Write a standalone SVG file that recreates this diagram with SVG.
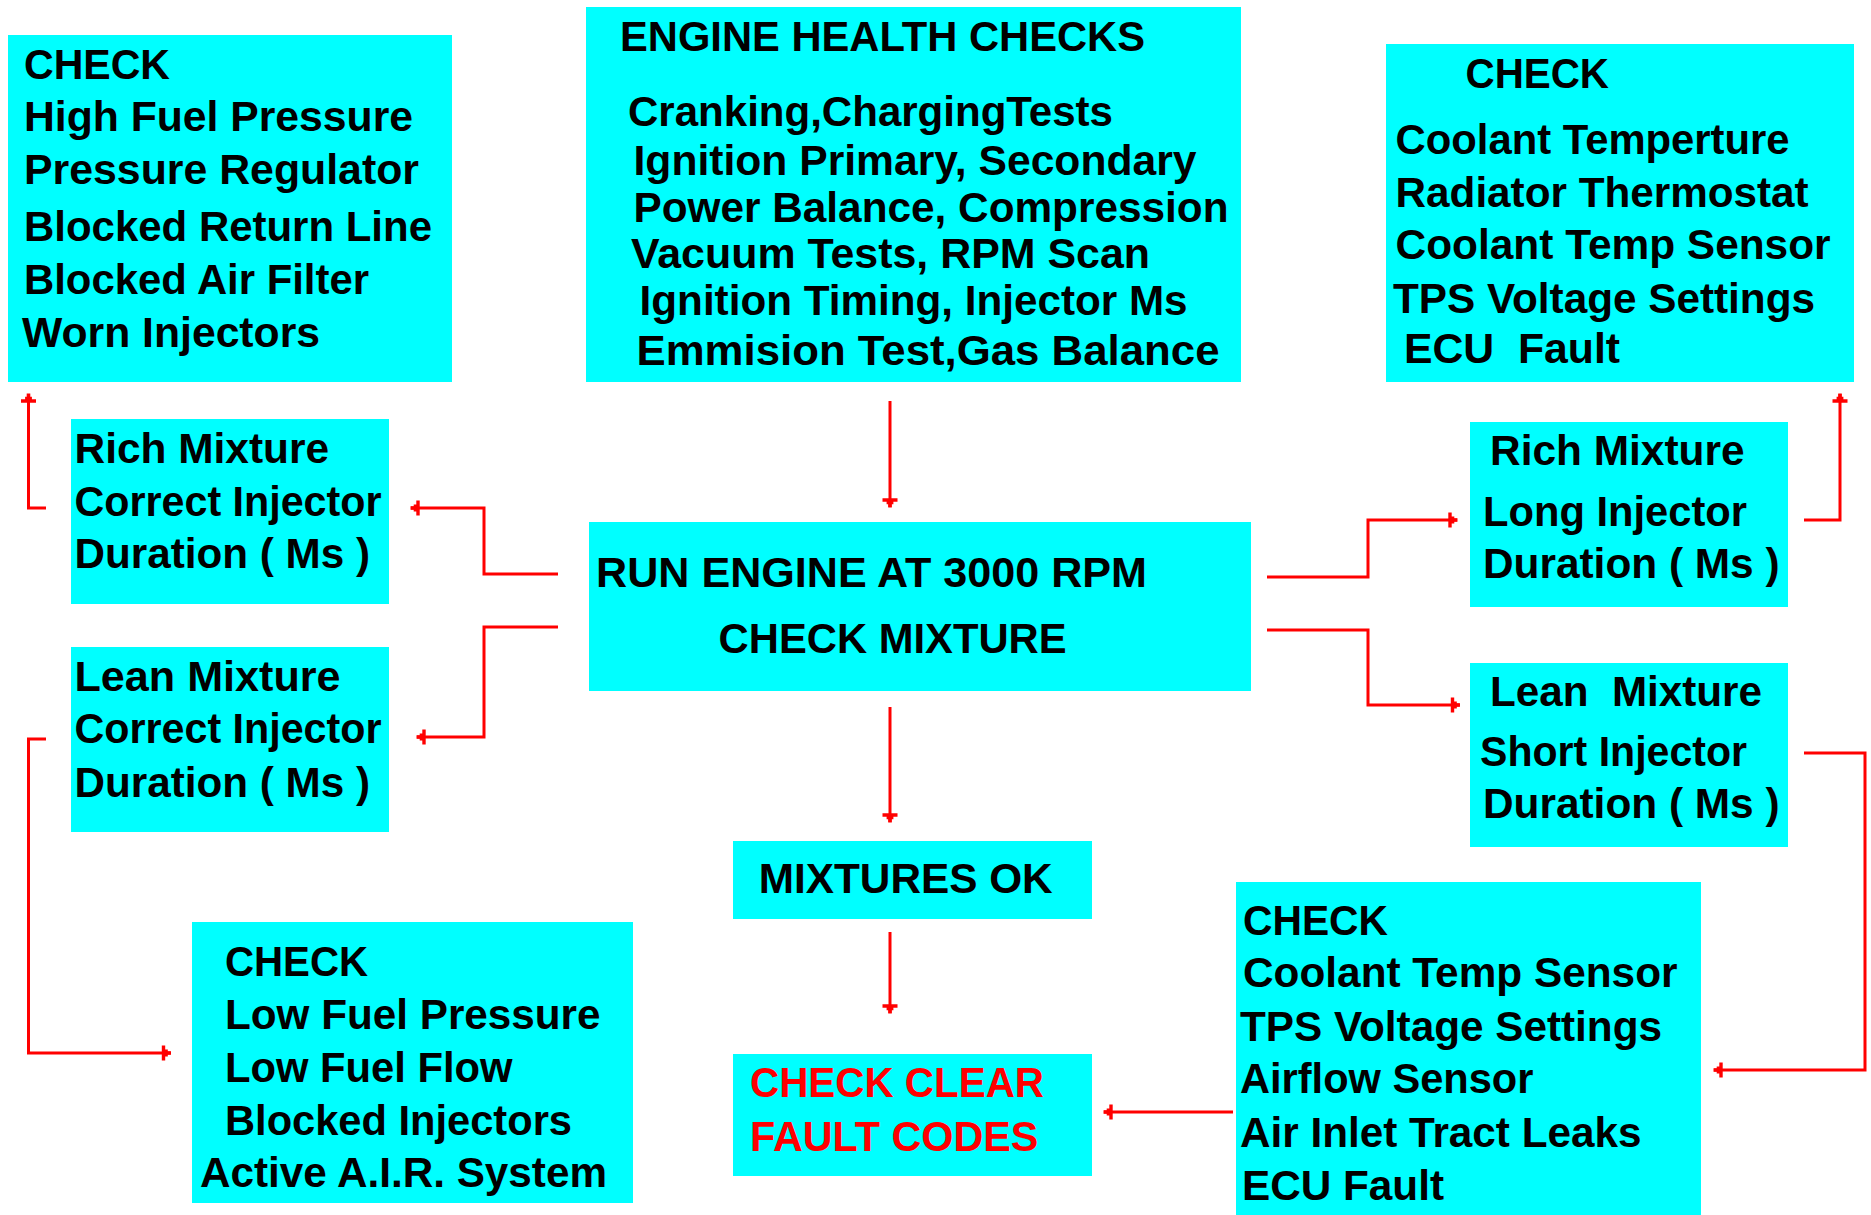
<svg xmlns="http://www.w3.org/2000/svg" width="1871" height="1215" viewBox="0 0 1871 1215">
<style>
.box{fill:#00FFFF}
text{font-family:"Liberation Sans",Arial,sans-serif;font-weight:bold;font-size:42px;fill:#000;white-space:pre}
.red{fill:#FF0000}
.conn path{fill:none;stroke:#FF0000;stroke-width:3;marker-end:url(#ah)}
</style>
<defs>
<marker id="ah" viewBox="-10 -8 12 16" refX="0" refY="0" markerWidth="12" markerHeight="16" markerUnits="userSpaceOnUse" orient="auto">
<path d="M0.5,-1.8 H-2.7 V-3.4 H-5.3 V-7.5 H-8.7 V7.5 H-5.3 V3.4 H-2.7 V1.8 H0.5 Z" fill="#FF0000"/>
</marker>
</defs>
<rect width="1871" height="1215" fill="#FFFFFF"/>

<g id="n1">
<rect class="box" x="8" y="35" width="444" height="347"/>
<text x="24" y="79" textLength="146" lengthAdjust="spacingAndGlyphs">CHECK</text>
<text x="24" y="131" textLength="389" lengthAdjust="spacingAndGlyphs">High Fuel Pressure</text>
<text x="24" y="184" textLength="395" lengthAdjust="spacingAndGlyphs">Pressure Regulator</text>
<text x="24" y="241" textLength="408" lengthAdjust="spacingAndGlyphs">Blocked Return Line</text>
<text x="24" y="294" textLength="345" lengthAdjust="spacingAndGlyphs">Blocked Air Filter</text>
<text x="22" y="347" textLength="298" lengthAdjust="spacingAndGlyphs">Worn Injectors</text>
</g>

<g id="n2">
<rect class="box" x="586" y="7" width="655" height="375"/>
<text x="620" y="51" textLength="525" lengthAdjust="spacingAndGlyphs">ENGINE HEALTH CHECKS</text>
<text x="628" y="126" textLength="485" lengthAdjust="spacingAndGlyphs">Cranking,ChargingTests</text>
<text x="633.5" y="175" textLength="563" lengthAdjust="spacingAndGlyphs">Ignition Primary, Secondary</text>
<text x="633.5" y="222" textLength="595" lengthAdjust="spacingAndGlyphs">Power Balance, Compression</text>
<text x="631" y="268" textLength="519" lengthAdjust="spacingAndGlyphs">Vacuum Tests, RPM Scan</text>
<text x="639.6" y="315" textLength="548" lengthAdjust="spacingAndGlyphs">Ignition Timing, Injector Ms</text>
<text x="636.5" y="365" textLength="583" lengthAdjust="spacingAndGlyphs">Emmision Test,Gas Balance</text>
</g>

<g id="n3">
<rect class="box" x="1386" y="44" width="468" height="338"/>
<text x="1465.5" y="88" textLength="143.5" lengthAdjust="spacingAndGlyphs">CHECK</text>
<text x="1395.6" y="154" textLength="394" lengthAdjust="spacingAndGlyphs">Coolant Temperture</text>
<text x="1395.6" y="207" textLength="413" lengthAdjust="spacingAndGlyphs">Radiator Thermostat</text>
<text x="1395.6" y="259" textLength="435" lengthAdjust="spacingAndGlyphs">Coolant Temp Sensor</text>
<text x="1393" y="313" textLength="422" lengthAdjust="spacingAndGlyphs">TPS Voltage Settings</text>
<text x="1404" y="363" textLength="216" lengthAdjust="spacingAndGlyphs">ECU  Fault</text>
</g>

<g id="n4">
<rect class="box" x="71" y="419" width="318" height="185"/>
<text x="74.5" y="463" textLength="254.5" lengthAdjust="spacingAndGlyphs">Rich Mixture</text>
<text x="74.5" y="516" textLength="307" lengthAdjust="spacingAndGlyphs">Correct Injector</text>
<text x="74.5" y="568" textLength="295.5" lengthAdjust="spacingAndGlyphs">Duration ( Ms )</text>
</g>

<g id="n5">
<rect class="box" x="71" y="647" width="318" height="185"/>
<text x="74.5" y="691" textLength="266" lengthAdjust="spacingAndGlyphs">Lean Mixture</text>
<text x="74.5" y="743" textLength="307" lengthAdjust="spacingAndGlyphs">Correct Injector</text>
<text x="74.5" y="797" textLength="295.5" lengthAdjust="spacingAndGlyphs">Duration ( Ms )</text>
</g>

<g id="n6">
<rect class="box" x="589" y="522" width="662" height="169"/>
<text x="596" y="587" textLength="551" lengthAdjust="spacingAndGlyphs">RUN ENGINE AT 3000 RPM</text>
<text x="718.6" y="653" textLength="348" lengthAdjust="spacingAndGlyphs">CHECK MIXTURE</text>
</g>

<g id="n7">
<rect class="box" x="1470" y="422" width="318" height="185"/>
<text x="1490" y="465" textLength="254.5" lengthAdjust="spacingAndGlyphs">Rich Mixture</text>
<text x="1483" y="526" textLength="264" lengthAdjust="spacingAndGlyphs">Long Injector</text>
<text x="1483" y="578" textLength="296.5" lengthAdjust="spacingAndGlyphs">Duration ( Ms )</text>
</g>

<g id="n8">
<rect class="box" x="1470" y="663" width="318" height="184"/>
<text x="1490" y="706" textLength="272" lengthAdjust="spacingAndGlyphs">Lean  Mixture</text>
<text x="1480" y="766" textLength="267" lengthAdjust="spacingAndGlyphs">Short Injector</text>
<text x="1483" y="818" textLength="296.5" lengthAdjust="spacingAndGlyphs">Duration ( Ms )</text>
</g>

<g id="n9">
<rect class="box" x="733" y="841" width="359" height="78"/>
<text x="758.7" y="893" textLength="294" lengthAdjust="spacingAndGlyphs">MIXTURES OK</text>
</g>

<g id="n10">
<rect class="box" x="733" y="1054" width="359" height="122"/>
<text class="red" x="750" y="1097" textLength="294" lengthAdjust="spacingAndGlyphs">CHECK CLEAR</text>
<text class="red" x="750" y="1151" textLength="288.4" lengthAdjust="spacingAndGlyphs">FAULT CODES</text>
</g>

<g id="n11">
<rect class="box" x="192" y="922" width="441" height="281"/>
<text x="225" y="976" textLength="143" lengthAdjust="spacingAndGlyphs">CHECK</text>
<text x="225" y="1029" textLength="375.5" lengthAdjust="spacingAndGlyphs">Low Fuel Pressure</text>
<text x="225" y="1082" textLength="287.6" lengthAdjust="spacingAndGlyphs">Low Fuel Flow</text>
<text x="225" y="1135" textLength="347" lengthAdjust="spacingAndGlyphs">Blocked Injectors</text>
<text x="200" y="1187" textLength="407" lengthAdjust="spacingAndGlyphs">Active A.I.R. System</text>
</g>

<g id="n12">
<rect class="box" x="1236" y="882" width="465" height="333"/>
<text x="1243" y="935" textLength="145" lengthAdjust="spacingAndGlyphs">CHECK</text>
<text x="1243" y="987" textLength="434.5" lengthAdjust="spacingAndGlyphs">Coolant Temp Sensor</text>
<text x="1240" y="1041" textLength="422" lengthAdjust="spacingAndGlyphs">TPS Voltage Settings</text>
<text x="1240" y="1093" textLength="293.4" lengthAdjust="spacingAndGlyphs">Airflow Sensor</text>
<text x="1240" y="1147" textLength="401.4" lengthAdjust="spacingAndGlyphs">Air Inlet Tract Leaks</text>
<text x="1242" y="1200" textLength="202" lengthAdjust="spacingAndGlyphs">ECU Fault</text>
</g>

<g id="connectors" class="conn">
<path d="M890,401 V507"/>
<path d="M890,707 V822"/>
<path d="M890,932 V1013"/>
<path d="M558,574 H484 V508 H411"/>
<path d="M558,627 H484 V737 H417"/>
<path d="M46,508 H28.5 V394"/>
<path d="M46,739 H28.5 V1053 H170.5"/>
<path d="M1267,577 H1368 V520 H1457"/>
<path d="M1267,630 H1368 V705 H1459.5"/>
<path d="M1804,520 H1840 V394"/>
<path d="M1804,753 H1865 V1070 H1714"/>
<path d="M1233,1112 H1104"/>
</g>
</svg>
